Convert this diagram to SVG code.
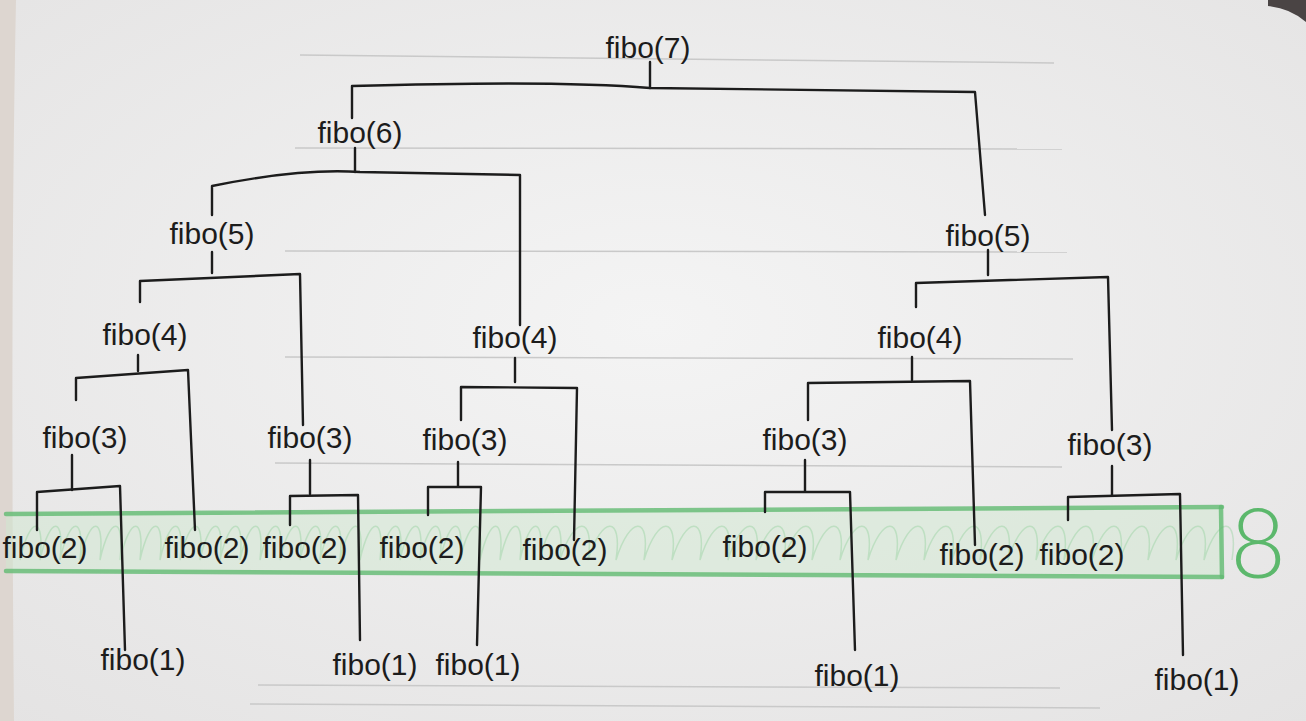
<svg xmlns="http://www.w3.org/2000/svg" width="1306" height="721" viewBox="0 0 1306 721">
<defs>
<style>
.lbl{font-family:"Liberation Sans",Arial,sans-serif;font-size:30px;fill:#1c1c1c;text-anchor:middle}
.ink{fill:none;stroke:#1c1c1c;stroke-width:2.4;stroke-linecap:round;stroke-linejoin:round}
.rule{stroke:#c9c9c9;stroke-width:1.5;fill:none}
.gb{fill:none;stroke:#62ba72;stroke-width:4.5;stroke-linecap:round;opacity:0.8}
</style>
<radialGradient id="bg" cx="0.5" cy="0.45" r="0.75">
<stop offset="0" stop-color="#f4f4f4"/>
<stop offset="1" stop-color="#e4e3e3"/>
</radialGradient>
</defs>
<rect width="1306" height="721" fill="url(#bg)"/>
<path d="M0 0 H16 Q10 300 14 721 H0 Z" fill="#ddd6d0"/>
<path d="M1268 0 H1306 V22 Q1290 8 1268 6 Z" fill="#4a4444"/>
<g id="rules">
<path class="rule" d="M300 55 L1054 63"/>
<path class="rule" d="M295 148 L1062 149"/>
<path class="rule" d="M285 251 L1067 252"/>
<path class="rule" d="M285 357 L1073 359"/>
<path class="rule" d="M275 463 L1062 467"/>
<path class="rule" d="M258 685 L1060 688"/>
<path class="rule" d="M250 704 L1100 708"/>
</g>
<g id="band">
<path d="M6 513 L1222 508 L1222 577 L6 571 Z" fill="#cfe8d0" opacity="0.5"/>
<path d="M20 560 c10 -45 25 -45 20 0 c10 -45 25 -45 20 0 c10 -45 25 -45 20 0 c10 -45 25 -45 20 0 c10 -45 25 -45 20 0 c10 -45 25 -45 20 0 c10 -45 25 -45 20 0 c10 -45 25 -45 20 0 c10 -45 25 -45 20 0 c10 -45 25 -45 20 0 c10 -45 25 -45 20 0 c10 -45 25 -45 20 0 c10 -45 25 -45 20 0 c10 -45 25 -45 20 0 c10 -45 25 -45 20 0 c10 -45 25 -45 20 0 c10 -45 25 -45 20 0 c10 -45 25 -45 20 0 c10 -45 25 -45 20 0 c10 -45 25 -45 20 0 c10 -45 25 -45 20 0 c10 -45 25 -45 20 0 c10 -45 25 -45 20 0 c10 -45 25 -45 20 0 c10 -45 25 -45 20 0 c10 -45 25 -45 20 0 c10 -45 25 -45 20 0 c14 -45 35 -45 28 0 c14 -45 35 -45 28 0 c14 -45 35 -45 28 0 c14 -45 35 -45 28 0 c14 -45 35 -45 28 0 c14 -45 35 -45 28 0 c14 -45 35 -45 28 0 c14 -45 35 -45 28 0 c14 -45 35 -45 28 0 c14 -45 35 -45 28 0 c14 -45 35 -45 28 0 c14 -45 35 -45 28 0 c14 -45 35 -45 28 0 c14 -45 35 -45 28 0 c14 -45 35 -45 28 0 c14 -45 35 -45 28 0 c14 -45 35 -45 28 0 c14 -45 35 -45 28 0 c14 -45 35 -45 28 0 c14 -45 35 -45 28 0 c14 -45 35 -45 28 0 c14 -45 35 -45 28 0 c14 -45 35 -45 28 0 c14 -45 35 -45 28 0" fill="none" stroke="#8fcf98" stroke-width="1.5" opacity="0.4"/>
<path class="gb" d="M6 514 L1222 507"/>
<path class="gb" d="M6 571 L1222 577"/>
<path class="gb" d="M1221 507 L1222 577"/>
<text x="1258" y="578" font-family="Lato,'Liberation Sans',sans-serif" font-size="96" font-weight="300" fill="#5cb86c" text-anchor="middle">8</text>
</g>
<g id="connectors">
<path class="ink" d="M650 62 V88"/>
<path class="ink" d="M352 118 V86 Q560 80 650 88 L975 92 L985 215"/>
<path class="ink" d="M355 148 V172"/>
<path class="ink" d="M212 215 V186 Q300 168 360 172 L520 175 V325"/>
<path class="ink" d="M212 252 V273"/>
<path class="ink" d="M140 302 V281 L300 274 L303 425"/>
<path class="ink" d="M138 355 V371"/>
<path class="ink" d="M76 400 V378 L188 370 L195 530"/>
<path class="ink" d="M72 455 V490"/>
<path class="ink" d="M37 530 V492 L120 486 L125 650"/>
<path class="ink" d="M310 460 V494"/>
<path class="ink" d="M290 525 V496 L358 495 L360 640"/>
<path class="ink" d="M515 358 V382"/>
<path class="ink" d="M461 420 V387 L577 388 L574 540"/>
<path class="ink" d="M458 462 V486"/>
<path class="ink" d="M428 515 V487 L481 487 L477 645"/>
<path class="ink" d="M988 250 V275"/>
<path class="ink" d="M916 307 V283 L1108 277 L1112 430"/>
<path class="ink" d="M912 357 V380"/>
<path class="ink" d="M808 420 V383 L970 381 L975 545"/>
<path class="ink" d="M805 460 V491"/>
<path class="ink" d="M765 512 V492 L850 492 L855 650"/>
<path class="ink" d="M1112 466 V495"/>
<path class="ink" d="M1068 520 V497 L1180 494 L1183 655"/>
</g>
<g id="n7"><text class="lbl" x="648" y="58">fibo(7)</text></g>
<g id="n6"><text class="lbl" x="360" y="143">fibo(6)</text></g>
<g id="n5a"><text class="lbl" x="212" y="244">fibo(5)</text></g>
<g id="n5b"><text class="lbl" x="988" y="246">fibo(5)</text></g>
<g id="n4a"><text class="lbl" x="145" y="345">fibo(4)</text></g>
<g id="n4b"><text class="lbl" x="515" y="348">fibo(4)</text></g>
<g id="n4c"><text class="lbl" x="920" y="348">fibo(4)</text></g>
<g id="n3a"><text class="lbl" x="85" y="448">fibo(3)</text></g>
<g id="n3b"><text class="lbl" x="310" y="448">fibo(3)</text></g>
<g id="n3c"><text class="lbl" x="465" y="450">fibo(3)</text></g>
<g id="n3d"><text class="lbl" x="805" y="450">fibo(3)</text></g>
<g id="n3e"><text class="lbl" x="1110" y="455">fibo(3)</text></g>
<g id="n2a"><text class="lbl" x="45" y="558">fibo(2)</text></g>
<g id="n2b"><text class="lbl" x="207" y="558">fibo(2)</text></g>
<g id="n2c"><text class="lbl" x="305" y="558">fibo(2)</text></g>
<g id="n2d"><text class="lbl" x="422" y="558">fibo(2)</text></g>
<g id="n2e"><text class="lbl" x="565" y="560">fibo(2)</text></g>
<g id="n2f"><text class="lbl" x="765" y="557">fibo(2)</text></g>
<g id="n2g"><text class="lbl" x="982" y="565">fibo(2)</text></g>
<g id="n2h"><text class="lbl" x="1082" y="565">fibo(2)</text></g>
<g id="n1a"><text class="lbl" x="143" y="670">fibo(1)</text></g>
<g id="n1b"><text class="lbl" x="375" y="675">fibo(1)</text></g>
<g id="n1c"><text class="lbl" x="478" y="675">fibo(1)</text></g>
<g id="n1d"><text class="lbl" x="857" y="686">fibo(1)</text></g>
<g id="n1e"><text class="lbl" x="1197" y="690">fibo(1)</text></g>
</svg>
